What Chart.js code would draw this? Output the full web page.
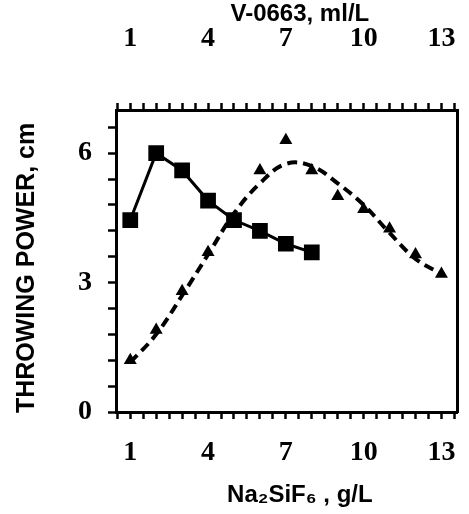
<!DOCTYPE html>
<html>
<head>
<meta charset="utf-8">
<script src="https://cdn.jsdelivr.net/npm/chart.js@4.4.1/dist/chart.umd.min.js"></script>
<style>
  body { margin: 0; background: #fff; }
</style>
</head>
<body>
<canvas id="tp-chart" width="469" height="514"></canvas>
<script>
// Na2SiF6 series (squares, solid line)
const squareConc = [1, 2, 3, 4, 5, 6, 7, 8];
const squarePower = [4.45, 6.0, 5.6, 4.9, 4.45, 4.2, 3.9, 3.7];

// V-0663 series (triangles) and its dashed fit curve
const triangleConc = [1, 2, 3, 4, 5, 6, 7, 8, 9, 10, 11, 12, 13];
const trianglePower = [1.2, 1.9, 2.8, 3.7, 4.5, 5.6, 6.3, 5.6, 5.0, 4.7, 4.25, 3.65, 3.2];
const fitPower = [1.15, 1.8, 2.7, 3.65, 4.6, 5.3, 5.75, 5.7, 5.3, 4.8, 4.15, 3.55, 3.2];

const xTickLabels = [1, 4, 7, 10, 13];
const yTickLabels = [0, 3, 6];

// minor tick positions
let xMinor = [];
for (let k = 1; k <= 27; k++) xMinor.push(k / 2);
let yMinor = [];
for (let k = 0; k <= 11; k++) yMinor.push(Math.round(k * 6) / 10);

const numFont = { family: '"Liberation Serif", "Times New Roman", serif', size: 28, weight: 'bold' };
const titleFont = { family: '"Liberation Sans Narrow", "Arial Narrow", "Liberation Sans", sans-serif', size: 24, weight: 'bold' };

function pts(xs, ys) {
    return xs.map((x, i) => ({ x: x, y: ys[i] }));
}

// keep the plot frame where it is: no extra room for overhanging labels
function fixSize(size) {
    return s => {
        if (s.isHorizontal()) s.height = size; else s.width = size;
        s.paddingLeft = 0; s.paddingRight = 0;
        s.paddingTop = 0; s.paddingBottom = 0;
    };
}

const tickGrid = {
    drawOnChartArea: false,
    drawTicks: true,
    tickLength: 7,
    tickWidth: 2.5,
    tickColor: '#000'
};

const ctx = document.getElementById('tp-chart').getContext('2d');

const chart = new Chart(ctx, {
    type: 'line',
    data: {
        datasets: [{
            data: pts(squareConc, squarePower),
            borderColor: '#000',
            backgroundColor: '#000',
            borderWidth: 3,
            pointStyle: 'rect',
            pointRadius: 9,
            tension: 0,
            order: 1
        }, {
            data: pts(triangleConc, trianglePower),
            showLine: false,
            borderColor: '#000',
            backgroundColor: '#000',
            borderWidth: 0,
            pointStyle: 'triangle',
            pointRadius: 7.5,
            order: 2
        }, {
            data: pts(triangleConc, fitPower),
            borderColor: '#000',
            borderWidth: 4,
            borderDash: [10, 6],
            pointRadius: 0,
            tension: 0.4,
            order: 3
        }]
    },
    options: {
        responsive: false,
        animation: false,
        layout: { padding: 0 },
        scales: {
            x: {
                type: 'linear',
                position: 'bottom',
                min: 0.45,
                max: 13.6,
                afterBuildTicks: s => { s.ticks = xMinor.map(v => ({ value: v })); },
                afterFit: fixSize(102),
                ticks: {
                    autoSkip: false,
                    maxRotation: 0,
                    padding: 17,
                    color: '#000',
                    font: numFont,
                    callback: v => xTickLabels.includes(v) ? String(v) : ''
                },
                grid: tickGrid,
                border: { color: '#000', width: 3 },
                title: {
                    display: true,
                    // leading spaces nudge the title a bit right, as in the original
                    text: '    Na\u2082SiF\u2086 , g/L',
                    color: '#000',
                    font: titleFont,
                    padding: { top: 0, bottom: 4 }
                }
            },
            x2: {
                type: 'linear',
                position: 'top',
                min: 0.45,
                max: 13.6,
                afterBuildTicks: s => { s.ticks = xMinor.map(v => ({ value: v })); },
                afterFit: fixSize(110),
                ticks: {
                    autoSkip: false,
                    maxRotation: 0,
                    padding: 47,
                    color: '#000',
                    font: numFont,
                    callback: v => xTickLabels.includes(v) ? String(v) : ''
                },
                grid: tickGrid,
                border: { color: '#000', width: 3 },
                title: {
                    display: true,
                    text: '    V-0663, ml/L',
                    color: '#000',
                    font: titleFont,
                    padding: { top: 0, bottom: 0 }
                }
            },
            y: {
                position: 'left',
                min: 0,
                max: 7,
                afterBuildTicks: s => { s.ticks = yMinor.map(v => ({ value: v })); },
                afterFit: fixSize(116),
                ticks: {
                    autoSkip: false,
                    padding: 16,
                    color: '#000',
                    font: numFont,
                    callback: v => yTickLabels.includes(v) ? String(v) : ''
                },
                grid: Object.assign({}, tickGrid, { tickLength: 8 }),
                border: { color: '#000', width: 3 },
                title: {
                    display: true,
                    text: 'THROWING POWER, cm  ',
                    color: '#000',
                    font: { family: '"Liberation Sans", Arial, sans-serif', size: 25, weight: 'bold' },
                    padding: { top: 12, bottom: 0 }
                }
            },
            y2: {
                position: 'right',
                min: 0,
                max: 7,
                afterFit: fixSize(4),
                ticks: { display: false },
                grid: { drawOnChartArea: false, drawTicks: false },
                border: { color: '#000', width: 3 }
            }
        },
        plugins: {
            legend: { display: false },
            tooltip: { enabled: false }
        }
    }
});
</script>
</body>
</html>
